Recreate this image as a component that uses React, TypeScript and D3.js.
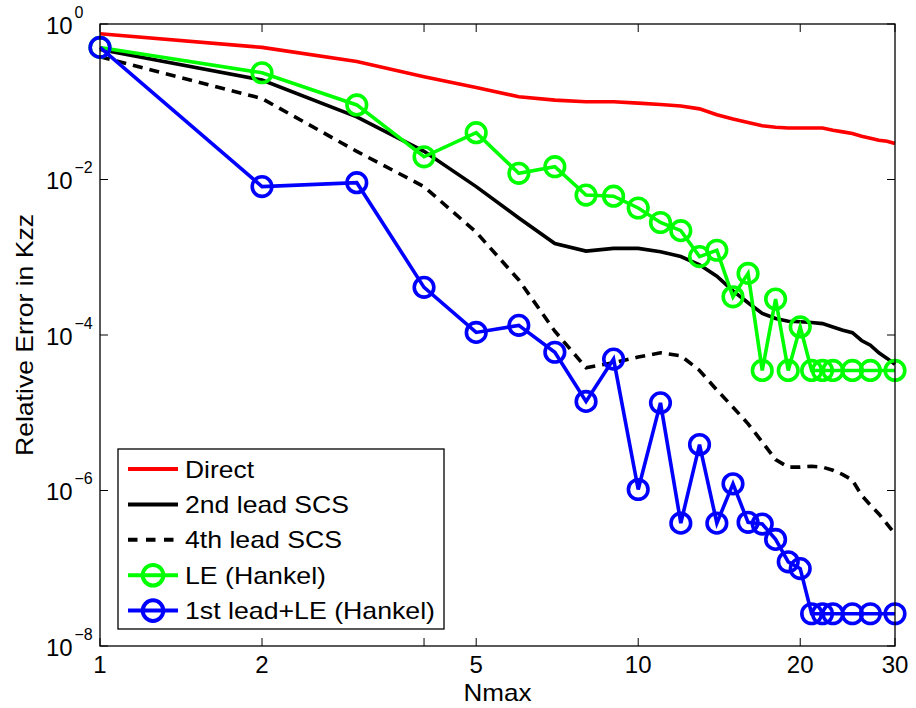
import React from 'react';
import * as d3 from 'd3';

// ---------- data ----------
const nAll: number[] = [1, 2, 3, 4, 5, 6, 7, 8, 9, 10, 11, 12, 13, 14, 15, 16, 17, 18, 19, 20, 21, 22, 23, 24, 25, 26, 27, 28, 29, 30];
const directErr: number[] = [0.75, 0.5, 0.33, 0.21, 0.153, 0.116, 0.105, 0.1, 0.1, 0.096, 0.092, 0.088, 0.081, 0.068, 0.06, 0.054, 0.049, 0.047, 0.046, 0.046, 0.046, 0.046, 0.043, 0.041, 0.039, 0.036, 0.034, 0.032, 0.031, 0.029];
const scs2Err: number[] = [0.47, 0.19, 0.064, 0.023, 0.0081, 0.0032, 0.0015, 0.0012, 0.0013, 0.0013, 0.00118, 0.00102, 0.0008, 0.00057, 0.00037, 0.00026, 0.00019, 0.000163, 0.00015, 0.000148, 0.000145, 0.00014, 0.000127, 0.000115, 0.000107, 0.000085, 0.000074, 0.000059, 0.00005, 0.000042];
const scs4Err: number[] = [0.38, 0.11, 0.023, 0.0081, 0.0021, 0.00051, 0.000112, 0.000038, 0.000044, 0.000052, 0.000059, 0.000054, 0.000035, 0.0000196, 0.0000118, 0.0000072, 0.0000042, 0.0000025, 0.000002, 0.000002, 0.00000205, 0.000002, 0.00000182, 0.0000016, 0.00000136, 0.00000087, 0.00000065, 0.0000005, 0.00000037, 0.000000275];

const nMarker: number[] = [1, 2, 3, 4, 5, 6, 7, 8, 9, 10, 11, 12, 13, 14, 15, 16, 17, 18, 19, 20, 21, 22, 23, 25, 27, 30];
const leErr: number[] = [0.5, 0.236, 0.091, 0.0196, 0.04, 0.012, 0.0146, 0.0063, 0.0061, 0.0043, 0.0028, 0.0022, 0.00102, 0.00123, 0.00031, 0.00062, 0.000035, 0.00029, 0.000035, 0.000127, 0.000035, 0.000035, 0.000035, 0.000035, 0.000035, 0.000035];
const lead1LeErr: number[] = [0.5, 0.0081, 0.0091, 0.00041, 0.000108, 0.000133, 0.00006, 0.0000140, 0.000049, 0.00000103, 0.0000134, 0.00000038, 0.0000039, 0.00000038, 0.00000122, 0.00000039, 0.00000037, 0.000000235, 0.000000121, 0.000000099, 0.000000026, 0.000000026, 0.000000026, 0.000000026, 0.000000026, 0.000000026];

const xTickValues: number[] = [1, 2, 4, 5, 10, 20, 30];
const xTickLabels: string[] = ['1', '2', '', '5', '10', '20', '30'];
const yTickValues: number[] = [1, 1e-2, 1e-4, 1e-6, 1e-8];
const yTickExps: string[] = ['0', '\u22122', '\u22124', '\u22126', '\u22128'];

const legendNames: string[] = ['Direct', '2nd lead SCS', '4th lead SCS', 'LE (Hankel)', '1st lead+LE (Hankel)'];
const xLabel = 'Nmax';
const yLabel = 'Relative Error in Kzz';

// ---------- layout / style ----------
const W = 916;
const H = 708;
const L = 100, R = 895, T = 24, B = 646;
const FONT = '"Liberation Sans", Arial, Helvetica, sans-serif';
const LW = 3.6;
const MR = 9.8;
const legendTextLen = [69, 164, 157, 141, 250];

export default function App() {
  const x = d3.scaleLog().domain([1, 30]).range([L, R]);
  const y = d3.scaleLog().domain([1e-8, 1]).range([B, T]);
  const line = d3.line<[number, number]>().x(d => x(d[0])).y(d => y(d[1]));
  const zip = (a: number[], b: number[]) => a.map((v, i) => [v, b[i]] as [number, number]);

  const series = [
    { key: 'direct', pts: zip(nAll, directErr), color: '#ff0000', dash: undefined as string | undefined, marker: false },
    { key: 'scs2', pts: zip(nAll, scs2Err), color: '#000000', dash: undefined, marker: false },
    { key: 'scs4', pts: zip(nAll, scs4Err), color: '#000000', dash: '10,7', marker: false },
    { key: 'le', pts: zip(nMarker, leErr), color: '#00ff00', dash: undefined, marker: true },
    { key: 'lead1', pts: zip(nMarker, lead1LeErr), color: '#0000ff', dash: undefined, marker: true },
  ];

  const tickLen = 8;
  const legX0 = 118, legY0 = 449, legW = 326, legH = 180;
  const rowY = (i: number) => 469 + i * 35.4;

  return (
    <svg width={W} height={H} style={{ position: 'absolute', left: 0, top: 0, background: '#fff' }} fontFamily={FONT}>
      <rect x={0} y={0} width={W} height={H} fill="#fff" />
      {/* series */}
      {series.map(s => (
        <g key={s.key}>
          <path d={line(s.pts) || ''} fill="none" stroke={s.color} strokeWidth={LW} strokeDasharray={s.dash} strokeLinejoin="miter" />
          {s.marker && s.pts.map((p, i) => (
            <circle key={i} cx={x(p[0])} cy={y(p[1])} r={MR} fill="none" stroke={s.color} strokeWidth={LW} />
          ))}
        </g>
      ))}
      {/* axes box */}
      <rect x={L} y={T} width={R - L} height={B - T} fill="none" stroke="#000" strokeWidth={1.3} />
      {/* x ticks */}
      {xTickValues.map((v, i) => (
        <g key={'xt' + i}>
          <line x1={x(v)} x2={x(v)} y1={B} y2={B - tickLen} stroke="#000" strokeWidth={1} />
          <line x1={x(v)} x2={x(v)} y1={T} y2={T + tickLen} stroke="#000" strokeWidth={1} />
          {xTickLabels[i] && (
            <text x={x(v)} y={673} textAnchor="middle" fontSize={24} fill="#000">{xTickLabels[i]}</text>
          )}
        </g>
      ))}
      {/* y ticks */}
      {yTickValues.map((v, i) => (
        <g key={'yt' + i}>
          <line x1={L} x2={L + tickLen} y1={y(v)} y2={y(v)} stroke="#000" strokeWidth={1} />
          <line x1={R} x2={R - tickLen} y1={y(v)} y2={y(v)} stroke="#000" strokeWidth={1} />
          <text x={46} y={y(v) + 9.5} fontSize={24} fill="#000">10</text>
          <text x={74.5} y={y(v) - 6.5} fontSize={16} fill="#000">{yTickExps[i]}</text>
        </g>
      ))}
      {/* axis labels */}
      <text x={(L + R) / 2} y={701} textAnchor="middle" fontSize={24} textLength={68} lengthAdjust="spacingAndGlyphs" fill="#000">{xLabel}</text>
      <text transform={`translate(33,${(T + B) / 2}) rotate(-90)`} textAnchor="middle" fontSize={24} textLength={242} lengthAdjust="spacingAndGlyphs" fill="#000">{yLabel}</text>
      {/* legend */}
      <rect x={legX0} y={legY0} width={legW} height={legH} fill="#fff" stroke="#000" strokeWidth={1.3} />
      {series.map((s, i) => (
        <g key={'lg' + i}>
          <line x1={128} x2={178} y1={rowY(i)} y2={rowY(i)} stroke={s.color} strokeWidth={LW + 0.4} strokeDasharray={s.dash ? '9.5,8.5' : undefined} />
          {s.marker && <circle cx={153} cy={rowY(i)} r={10.3} fill="none" stroke={s.color} strokeWidth={LW + 0.4} />}
          <text x={185} y={rowY(i) + 8.5} fontSize={24} textLength={legendTextLen[i]} lengthAdjust="spacingAndGlyphs" fill="#000">{legendNames[i]}</text>
        </g>
      ))}
    </svg>
  );
}
